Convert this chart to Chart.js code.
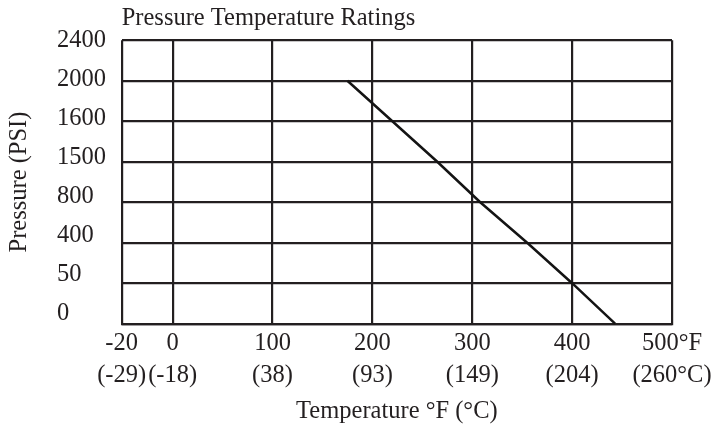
<!DOCTYPE html>
<html>
<head>
<meta charset="utf-8">
<script src="https://cdn.jsdelivr.net/npm/chart.js@4/dist/chart.umd.min.js"></script>
<style>
  html, body { margin: 0; padding: 0; background: #ffffff; }
  #c { display: block; }
</style>
</head>
<body>
<canvas id="c" width="712" height="425"></canvas>
<script>
// ---- data ----
// Pressure categories, top of chart to bottom (equally spaced on the original chart)
const pressureLabels = ['2400', '2000', '1600', '1500', '800', '400', '50', '0'];
// Rating line: pressure level -> temperature (°F) where the line crosses it
const ratingPressures = ['2000', '1600', '1500', '800', '400', '50', '0'];
const ratingTempsF = [175, 220, 265, 308, 355, 400, 443];
// Temperature tick labels (°F and °C)
const tempTicksF = [-20, 0, 100, 200, 300, 400, 500];
const tempTickLabelsF = ['-20', '0', '100', '200', '300', '400', '500°F'];
const tempTickLabelsC = ['(-29)', '(-18)', '(38)', '(93)', '(149)', '(204)', '(260°C)'];

// The original axis is compressed at the left: the -20 tick sits on the left edge.
const X_LEFT_EDGE = -51;
const X_RIGHT_EDGE = 500;

const INK = '#231f20';
const FONT = 'Liberation Serif';
Chart.defaults.font.family = FONT;
Chart.defaults.color = INK;

const points = ratingTempsF.map((t, i) => ({ x: t, y: ratingPressures[i] }));

new Chart(document.getElementById('c'), {
  type: 'scatter',
  data: {
    datasets: [{
      data: points,
      showLine: true,
      borderColor: '#141414',
      borderWidth: 2.5,
      pointRadius: 0,
      xAxisID: 'x',
      yAxisID: 'y'
    }]
  },
  options: {
    responsive: false,
    animation: false,
    layout: { padding: 0 },
    plugins: {
      legend: { display: false },
      tooltip: { enabled: false },
      title: {
        display: true,
        text: 'Pressure Temperature Ratings',
        align: 'start',
        fullSize: false,
        color: INK,
        font: { family: FONT, size: 24.5, weight: 'normal', lineHeight: 1.2 },
        padding: { top: 4.3, bottom: 6.6 }
      }
    },
    scales: {
      x: {
        type: 'linear',
        position: 'bottom',
        min: X_LEFT_EDGE,
        max: X_RIGHT_EDGE,
        afterBuildTicks: (scale) => {
          scale.ticks = tempTicksF.map((f, i) => ({ value: i === 0 ? X_LEFT_EDGE : f }));
        },
        afterFit: (scale) => {
          scale.height = 101.3;
          scale.paddingLeft = 0;
          scale.paddingRight = 40;
        },
        ticks: {
          autoSkip: false,
          maxRotation: 0,
          minRotation: 0,
          padding: 4.4,
          color: INK,
          font: { family: FONT, size: 24.5, lineHeight: 1.3 },
          callback: (v, i) => [tempTickLabelsF[i], tempTickLabelsC[i]]
        },
        grid: { color: INK, lineWidth: 2.2, drawTicks: false },
        border: { display: true, color: INK, width: 2.2 },
        title: {
          display: true,
          text: 'Temperature °F (°C)',
          color: INK,
          font: { family: FONT, size: 24.5, lineHeight: 1 },
          padding: { top: 0, bottom: 1 }
        }
      },
      y: {
        type: 'category',
        labels: pressureLabels,
        position: 'left',
        weight: 1,
        offset: false,
        afterFit: (scale) => { scale.width = 57; },
        ticks: { display: false },
        grid: { color: INK, lineWidth: 2.2, drawTicks: false },
        border: { display: false },
        title: {
          display: true,
          text: 'Pressure (PSI)',
          color: INK,
          font: { family: FONT, size: 24.5, lineHeight: 1.2 },
          padding: { top: 4.7, bottom: 0 }
        }
      },
      yLabels: {
        type: 'linear',
        position: 'left',
        weight: 0,
        min: -0.27,
        max: 7,
        afterBuildTicks: (scale) => {
          scale.ticks = pressureLabels.map((_, i) => ({ value: i }));
        },
        afterFit: (scale) => { scale.width = 64.7; },
        ticks: {
          autoSkip: false,
          crossAlign: 'far',
          padding: 0,
          color: INK,
          font: { family: FONT, size: 24.5 },
          callback: (v, i) => pressureLabels[pressureLabels.length - 1 - i]
        },
        grid: { display: false, drawTicks: false },
        border: { display: false }
      }
    }
  }
});
</script>
</body>
</html>
